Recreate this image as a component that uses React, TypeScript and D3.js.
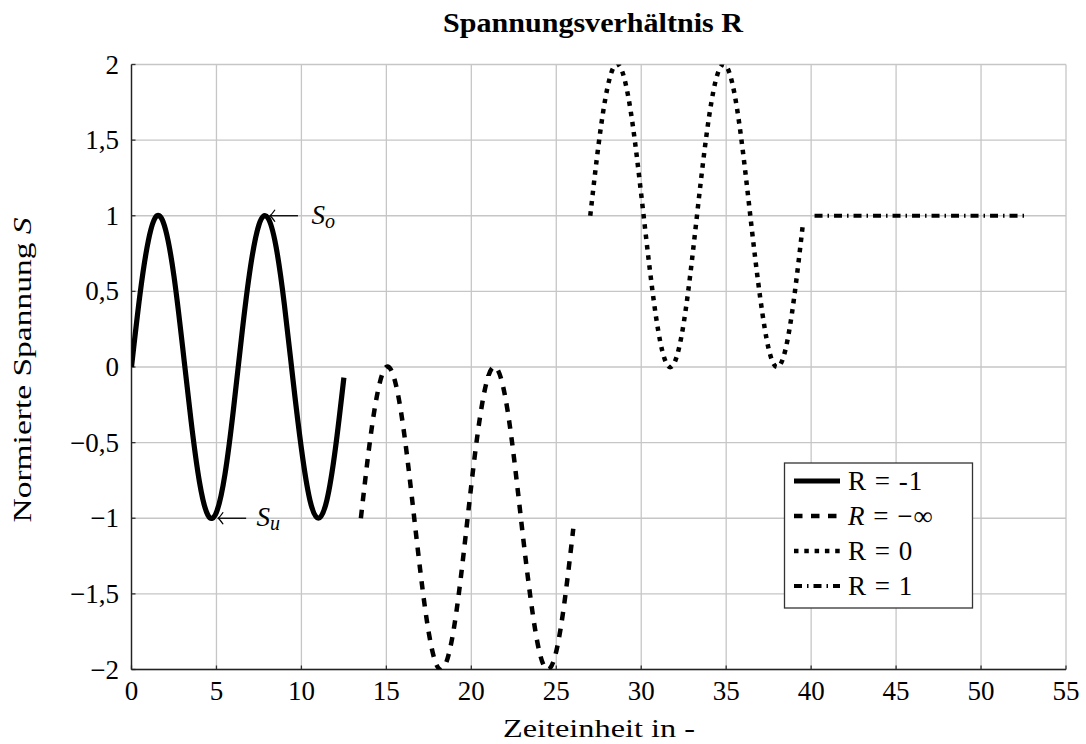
import React from "react";
import * as d3 from "d3";

// values
const xR1 = [0, 0.5, 1, 1.5, 2, 2.5, 3, 3.5, 4, 4.5, 5, 5.5, 6, 6.5, 7, 7.5, 8, 8.5, 9, 9.5, 10, 10.5, 11, 11.5, 12, 12.5];
const yR1 = [0, 0.48, 0.84, 1.0, 0.91, 0.6, 0.14, -0.35, -0.76, -0.98, -0.96, -0.71, -0.28, 0.22, 0.66, 0.94, 0.99, 0.8, 0.41, -0.08, -0.54, -0.88, -1.0, -0.88, -0.54, -0.07];

const xRinf = [13.5, 14, 14.5, 15, 15.5, 16, 16.5, 17, 17.5, 18, 18.5, 19, 19.5, 20, 20.5, 21, 21.5, 22, 22.5, 23, 23.5, 24, 24.5, 25, 25.5, 26];
const yRinf = [-1, -0.52, -0.16, 0.0, -0.09, -0.4, -0.86, -1.35, -1.76, -1.98, -1.96, -1.71, -1.28, -0.78, -0.34, -0.06, -0.01, -0.2, -0.59, -1.08, -1.54, -1.88, -2.0, -1.88, -1.54, -1.07];

const xR0 = [27, 27.5, 28, 28.5, 29, 29.5, 30, 30.5, 31, 31.5, 32, 32.5, 33, 33.5, 34, 34.5, 35, 35.5, 36, 36.5, 37, 37.5, 38, 38.5, 39, 39.5];
const yR0 = [1, 1.48, 1.84, 2.0, 1.91, 1.6, 1.14, 0.65, 0.24, 0.02, 0.04, 0.29, 0.72, 1.22, 1.66, 1.94, 1.99, 1.8, 1.41, 0.92, 0.46, 0.12, 0.0, 0.12, 0.46, 0.93];

const xRone = [40.2, 52.6];
const yRone = [1, 1];

const xTicks = [0, 5, 10, 15, 20, 25, 30, 35, 40, 45, 50, 55];
const yTicks = [-2, -1.5, -1, -0.5, 0, 0.5, 1, 1.5, 2];

const legendLabels = ["R = -1", "R = −∞", "R = 0", "R = 1"];

const notes = [
  { tx: 8.15, ty: 1, lx: 10.6, main: "S", sub: "o" },
  { tx: 5.1, ty: -1, lx: 7.35, main: "S", sub: "u" },
];

const W = 1086;
const H = 744;
const left = 131.5;
const right = 1066;
const top = 64.5;
const bottom = 669.5;

const serif = "'Liberation Serif', 'DejaVu Serif', serif";

const fmt = (v: number) => {
  const s = String(Math.abs(v)).replace(".", ",");
  return v < 0 ? "−" + s : s;
};

const App = () => {
  const x = d3.scaleLinear().domain([0, 55]).range([left, right]);
  const y = d3.scaleLinear().domain([-2, 2]).range([bottom, top]);

  const curve = d3
    .line<[number, number]>()
    .x((d) => x(d[0]))
    .y((d) => y(d[1]))
    .curve(d3.curveNatural);

  const zip = (a: number[], b: number[]) => a.map((v, i) => [v, b[i]] as [number, number]);

  const series = [
    { pts: zip(xR1, yR1), dash: "none", w: 5.2 },
    { pts: zip(xRinf, yRinf), dash: "8.5 8.5", w: 4.5 },
    { pts: zip(xR0, yR0), dash: "4.5 5.8", w: 4.5 },
    { pts: zip(xRone, yRone), dash: "8 5 1.5 5", w: 4 },
  ];

  return (
    <svg width={W} height={H} style={{ position: "absolute", left: 0, top: 0, background: "#fff" }}>
      <defs>
        <clipPath id="plot">
          <rect x={left} y={top} width={right - left} height={bottom - top} />
        </clipPath>
      </defs>

      {/* grid */}
      {xTicks.map((t) => (
        <line key={"gx" + t} x1={x(t)} x2={x(t)} y1={top} y2={bottom} stroke="#c6c6c6" strokeWidth={1.3} />
      ))}
      {yTicks.map((t) => (
        <line key={"gy" + t} x1={left} x2={right} y1={y(t)} y2={y(t)} stroke="#c6c6c6" strokeWidth={1.3} />
      ))}

      {/* ticks */}
      {xTicks.map((t) => (
        <line key={"tx" + t} x1={x(t)} x2={x(t)} y1={bottom} y2={bottom - 4} stroke="#333" strokeWidth={1.3} />
      ))}
      {yTicks.map((t) => (
        <line key={"ty" + t} x1={left} x2={left + 4} y1={y(t)} y2={y(t)} stroke="#333" strokeWidth={1.3} />
      ))}

      {/* axis lines */}
      <line x1={left} x2={left} y1={top} y2={bottom} stroke="#222" strokeWidth={1.4} />
      <line x1={left} x2={right} y1={bottom} y2={bottom} stroke="#222" strokeWidth={1.4} />

      {/* tick labels */}
      {xTicks.map((t) => (
        <text key={"lx" + t} x={x(t)} y={700} textAnchor="middle" fontFamily={serif} fontSize={27}>
          {t}
        </text>
      ))}
      {yTicks.map((t) => (
        <text key={"ly" + t} x={119} y={y(t) + 9} textAnchor="end" fontFamily={serif} fontSize={27}>
          {fmt(t)}
        </text>
      ))}

      {/* series */}
      <g clipPath="url(#plot)">
        {series.map((s, i) => (
          <path
            key={i}
            d={curve(s.pts) || ""}
            fill="none"
            stroke="#000"
            strokeWidth={s.w}
            strokeDasharray={s.dash}
            strokeLinejoin="round"
          />
        ))}
      </g>

      {/* annotations */}
      {notes.map((n, i) => {
        const tx = x(n.tx);
        const ty = y(n.ty);
        return (
          <g key={"n" + i}>
            <line x1={tx} x2={tx + 28} y1={ty} y2={ty} stroke="#000" strokeWidth={1.3} />
            <path
              d={`M${tx + 5},${ty - 6} Q${tx + 1.5},${ty - 1} ${tx},${ty} Q${tx + 1.5},${ty + 1} ${tx + 5},${ty + 6}`}
              fill="none"
              stroke="#000"
              strokeWidth={1.3}
            />
            <text x={x(n.lx)} y={ty + 8} fontFamily={serif} fontSize={27} fontStyle="italic">
              {n.main}
              <tspan fontSize={20} dy={4}>
                {n.sub}
              </tspan>
            </text>
          </g>
        );
      })}

      {/* legend */}
      <rect x={784.5} y={463} width={188} height={145} fill="#fff" stroke="#333" strokeWidth={1.3} />
      {series.map((s, i) => {
        const ly = 481 + i * 35;
        return (
          <g key={"lg" + i}>
            <line x1={794} x2={840} y1={ly} y2={ly} stroke="#000" strokeWidth={s.w} strokeDasharray={s.dash} />
            <text x={848} y={ly + 9} fontFamily={serif} fontSize={27} letterSpacing={1}>
              {i === 1 ? (
                <>
                  <tspan fontStyle="italic">R</tspan>
                  {" = −∞"}
                </>
              ) : (
                legendLabels[i]
              )}
            </text>
          </g>
        );
      })}

      {/* title and axis labels */}
      <text
        x={593}
        y={32}
        textAnchor="middle"
        fontFamily={serif}
        fontSize={28}
        fontWeight="bold"
        textLength={300}
        lengthAdjust="spacingAndGlyphs"
      >
        Spannungsverhältnis R
      </text>
      <text
        x={599}
        y={737}
        textAnchor="middle"
        fontFamily={serif}
        fontSize={25}
        textLength={192}
        lengthAdjust="spacingAndGlyphs"
      >
        Zeiteinheit in -
      </text>
      <text
        transform={`translate(31, 370) rotate(-90)`}
        textAnchor="middle"
        fontFamily={serif}
        fontSize={25}
        textLength={305}
        lengthAdjust="spacingAndGlyphs"
      >
        Normierte Spannung <tspan fontStyle="italic">S</tspan>
      </text>
    </svg>
  );
};

export default App;
